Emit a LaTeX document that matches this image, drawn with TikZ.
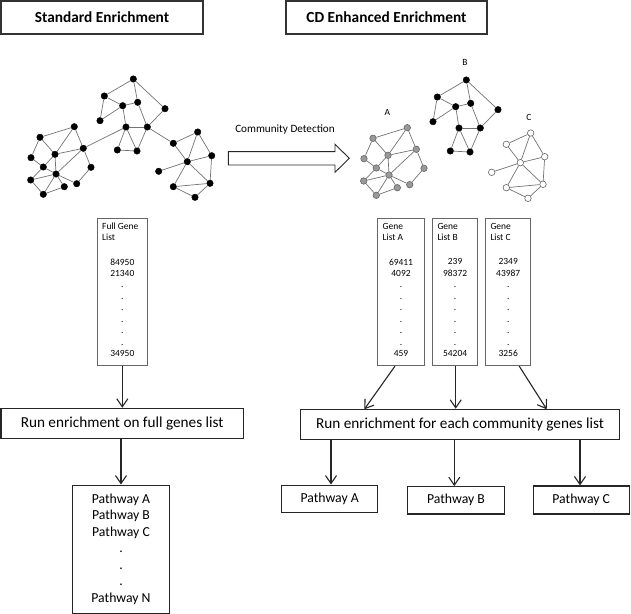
\documentclass[tikz,border=0pt]{standalone}
\usepackage{fontspec}
\setmainfont{Carlito}
\usetikzlibrary{arrows.meta}

\newcommand{\mynetwork}[4]{%
  \foreach \n/\x/\y in {a1/74.3/126.7,a2/40/137.3,a3/83.3/148.3,a4/55/154.3,a5/31/157.7,a6/43.3/167,a7/91/167.3,a8/56/174,a9/30.7/180,a10/76.7/183.7,a11/64.3/186.7,a12/43.3/194.3}
    {\node[#2] (#1\n) at (\x,\y) {};}
  \foreach \n/\x/\y in {b1/133.3/79,b2/104.3/96,b3/122.7/105.7,b4/137.7/102.3,b5/165/108.7,b6/100/120.7,b7/126/127,b8/147.3/127,b9/117.3/150,b10/137/151}
    {\node[#3] (#1\n) at (\x,\y) {};}
  \foreach \n/\x/\y in {c1/197.7/132,c2/173.3/143.3,c3/211.7/155.7,c4/187.3/161.7,c5/158.7/171.3,c6/210/183.3,c7/173.3/186.7,c8/195/197.3}
    {\node[#4] (#1\n) at (\x,\y) {};}
  \foreach \u/\v in {a2/a1,a1/a3,a1/a4,a2/a4,a2/a5,a4/a3,a3/a7,a3/a8,a5/a6,a4/a6,a4/a8,a6/a8,a9/a8,a9/a6,a9/a12,a8/a12,a8/a11,a8/a10,a7/a10,a11/a12,
    b1/b2,b1/b4,b1/b5,b2/b3,b2/b6,b3/b4,b3/b6,b3/b7,b4/b8,b5/b8,b7/b8,b7/b9,b7/b10,b8/b10,b9/b10,
    c1/c2,c1/c3,c1/c4,c2/c4,c3/c4,c3/c6,c4/c5,c4/c7,c4/c6,c7/c6,c7/c8,c8/c6}
    {\draw[edge] (#1\u) -- (#1\v);}
}

\begin{document}
\begin{tikzpicture}[x=1bp,y=-1bp,
  edge/.style={draw=black!55, line width=0.7bp},
  blk/.style={circle,draw=black,fill=black,minimum size=6.5bp,inner sep=0pt},
  gry/.style={circle,draw=black!60,fill=black!40,line width=0.6bp,minimum size=6.5bp,inner sep=0pt},
  wht/.style={circle,draw=black!60,fill=white,line width=0.6bp,minimum size=6.5bp,inner sep=0pt},
  titlebox/.style={draw=black!80,line width=1.3bp,inner sep=0pt,font=\fontsize{15.4}{18}\selectfont\bfseries},
  bigbox/.style={draw=black!85,line width=1.1bp,inner sep=0pt,font=\fontsize{15.3}{18}\selectfont},
  pathbox/.style={draw=black!85,line width=1.1bp,inner sep=0pt,font=\fontsize{13.8}{16.6}\selectfont},
  pathtext/.style={inner sep=0pt,align=center,font=\fontsize{13.8}{16.6}\selectfont},
  listbox/.style={draw=black!60,line width=0.8bp,inner sep=0pt,minimum height=147.4bp},
  small/.style={inner sep=0pt,font=\fontsize{9.5}{11.5}\selectfont},
  numbers/.style={inner sep=0pt,align=center,font=\fontsize{9.5}{11.5}\selectfont},
  netlabel/.style={inner sep=0pt,font=\fontsize{9.5}{11}\selectfont},
  arr/.style={draw=black!85,line width=1.1bp,-{Straight Barb[length=8bp,width=11bp]}},
]
\useasboundingbox (0,0) rectangle (631,614);

% titles
\node[titlebox,minimum width=202bp,minimum height=33bp] (t1) at (102,17.5) {Standard Enrichment};
\node[titlebox,minimum width=201bp,minimum height=33bp] (t2) at (386.5,17.5) {CD Enhanced Enrichment};

% networks
\mynetwork{L}{blk}{blk}{blk}
\draw[edge] (La3) -- (Lb7);
\draw[edge] (Lb8) -- (Lc2);
\begin{scope}[shift={(333,1)}]
\mynetwork{R}{gry}{blk}{wht}
\end{scope}
\node[netlabel] (labA) at (387.3,112.7) {A};
\node[netlabel] (labB) at (465,62.3) {B};
\node[netlabel] (labC) at (529,117.7) {C};

% community detection arrow
\node[inner sep=0pt,font=\fontsize{11.2}{13}\selectfont] (cdt) at (285,129.3) {Community Detection};
\draw[draw=black!85,line width=0.9bp,fill=white] (228.3,151.7) -- (335,151.7) -- (335,144.3) -- (349.3,158.3) -- (335,172.3) -- (335,165) -- (228.3,165) -- cycle;

% gene lists
\node[listbox,minimum width=49.3bp] (full) at (122.3,292) {};
\node[small,anchor=west] (fullh1) at (102,226.7) {Full Gene};
\node[small,anchor=west] (fullh2) at (102,237.7) {List};
\node[numbers] (fulln) at (122.3,307.7) {84950\\21340\\.\\.\\.\\.\\.\\.\\34950};

\node[listbox,minimum width=46.6bp] (lA) at (401,292) {};
\node[small,anchor=west] (lAh1) at (382.5,226.7) {Gene};
\node[small,anchor=west] (lAh2) at (382.5,237.7) {List A};
\node[numbers] (lAn) at (401,307.7) {69411\\4092\\.\\.\\.\\.\\.\\.\\459};

\node[listbox,minimum width=44.8bp] (lB) at (455.1,292) {};
\node[small,anchor=west] (lBh1) at (437.3,226.7) {Gene};
\node[small,anchor=west] (lBh2) at (437.3,237.7) {List B};
\node[numbers] (lBn) at (455.1,307.7) {239\\98372\\.\\.\\.\\.\\.\\.\\54204};

\node[listbox,minimum width=44.9bp] (lC) at (508.2,292) {};
\node[small,anchor=west] (lCh1) at (490.3,226.7) {Gene};
\node[small,anchor=west] (lCh2) at (490.3,237.7) {List C};
\node[numbers] (lCn) at (508.2,307.7) {2349\\43987\\.\\.\\.\\.\\.\\.\\3256};

% enrichment boxes
\node[bigbox,minimum width=242.3bp,minimum height=30bp] (run1) at (122.2,423.3) {Run enrichment on full genes list};
\node[bigbox,minimum width=318.6bp,minimum height=30bp] (run2) at (460,424.3) {Run enrichment for each community genes list};

% pathways
\node[pathbox,minimum width=96.6bp,minimum height=128.3bp] (paths) at (121,549.2) {};
\node[pathtext] (pathst) at (121,549) {Pathway A\\Pathway B\\Pathway C\\.\\.\\.\\Pathway N};
\node[pathbox,minimum width=96bp,minimum height=27.3bp] (pA) at (329.7,498.7) {Pathway A};
\node[pathbox,minimum width=96.6bp,minimum height=27.3bp] (pB) at (456,500.3) {Pathway B};
\node[pathbox,minimum width=96.3bp,minimum height=28bp] (pC) at (581.2,500) {Pathway C};

% arrows
\coordinate (ra) at (364.3,409.3);
\coordinate (rc) at (546.7,409.3);
\draw[arr] (full.south) -- (full.south |- run1.north);
\draw[arr] (run1.south -| paths.north) -- (paths.north);
\draw[arr] ([xshift=-6bp]lA.south) -- (ra);
\draw[arr] ([xshift=0.6bp]lB.south) -- ([xshift=0.6bp]lB.south |- run2.north);
\draw[arr] ([xshift=11bp]lC.south) -- (rc);
\draw[arr] ([xshift=1.3bp]pA.north |- run2.south) -- ([xshift=1.3bp]pA.north);
\draw[arr] ([xshift=-1.7bp]pB.north |- run2.south) -- ([xshift=-1.7bp]pB.north);
\draw[arr] ([xshift=-1.2bp]pC.north |- run2.south) -- ([xshift=-1.2bp]pC.north);
\end{tikzpicture}
\end{document}
